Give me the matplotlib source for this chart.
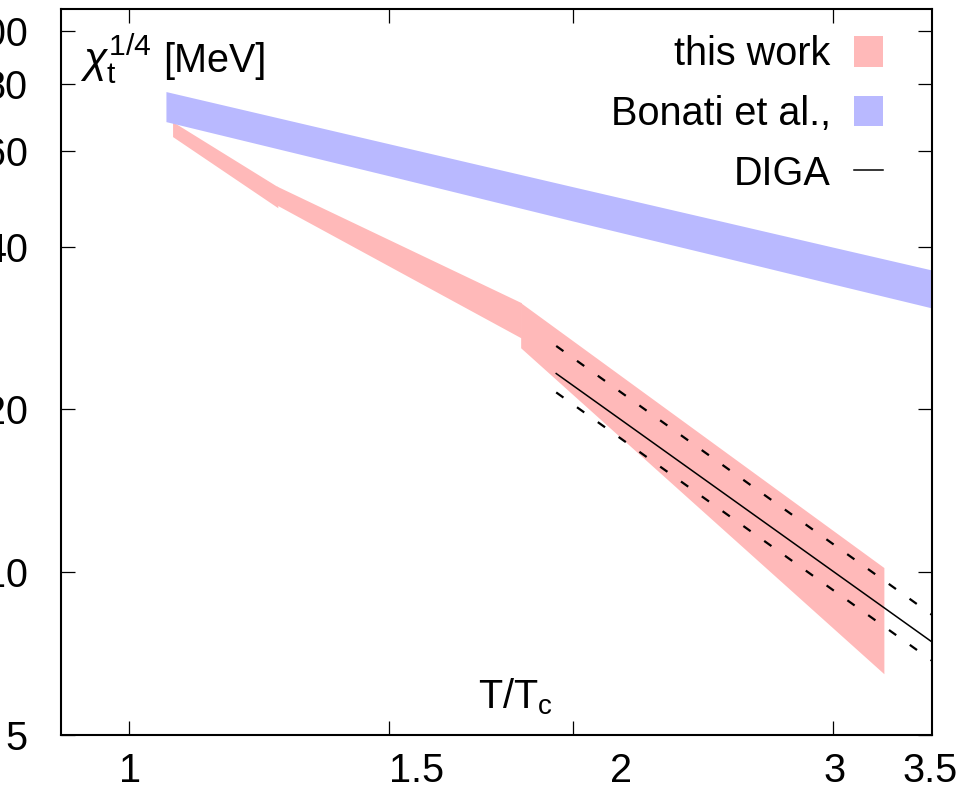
import matplotlib.pyplot as plt
from matplotlib.ticker import FixedLocator, FixedFormatter, NullFormatter, NullLocator

plt.rcParams['font.family'] = ['Liberation Sans', 'DejaVu Sans']
plt.rcParams['mathtext.fontset'] = 'custom'
plt.rcParams['mathtext.rm'] = 'Liberation Sans'
plt.rcParams['mathtext.it'] = 'Liberation Sans:italic'

# Bonati et al. band
bonati_x = [1.06, 1.5, 2.0, 2.5, 3.0, 3.5]
bonati_hi = [77.4, 62.0, 51.6, 44.8, 39.9, 36.2]
bonati_lo = [68.1, 54.1, 44.6, 38.5, 34.1, 30.8]

# this work, three pieces
work1_x = [1.071, 1.262]
work1_hi = [68.1, 51.6]
work1_lo = [63.9, 47.2]
work2_x = [1.259, 1.845]
work2_hi = [51.8, 31.5]
work2_lo = [47.8, 27.1]
work3_x = [1.843, 3.247]
work3_hi = [31.5, 10.2]
work3_lo = [26.0, 6.49]

# DIGA
diga_x = [1.948, 3.5]
diga_mid = [23.3, 7.43]
diga_hi = [26.2, 8.34]
diga_lo = [21.5, 6.86]

xticks = [1, 1.5, 2, 3]
xlabel_pos = [1.003, 1.568, 2.155, 3.008, 3.488]
xlabels = ['1', '1.5', '2', '3', '3.5']
yticks = [5, 10, 20, 40, 60, 80, 100]
ylabels = ['5', '10', '20', '40', '60', '80', '100']

red = '#ffb9b9'
blue = '#b9b9ff'
fs = 28.5

fig = plt.figure(figsize=(9.71, 8.01), dpi=100)
ax = fig.add_axes([61 / 971, 66 / 801, 871 / 971, 726 / 801])
ax.set_xscale('log')
ax.set_yscale('log')

h_work = None
for xs, lo, hi in [(work1_x, work1_lo, work1_hi), (work2_x, work2_lo, work2_hi), (work3_x, work3_lo, work3_hi)]:
    p = ax.fill_between(xs, lo, hi, color=red, lw=0, zorder=1)
    if h_work is None:
        h_work = p
h_bon = ax.fill_between(bonati_x, bonati_lo, bonati_hi, color=blue, lw=0, zorder=2)
h_diga, = ax.plot(diga_x, diga_mid, color='k', lw=1.1, zorder=3)
ax.plot(diga_x, diga_hi, color='k', lw=1.6, ls=(0, (4, 7.5)), zorder=3)
ax.plot(diga_x, diga_lo, color='k', lw=1.6, ls=(0, (4, 7.5)), zorder=3)

ax.set_xlim(0.9, 3.5)
ax.set_ylim(5, 110)

ax.xaxis.set_major_locator(FixedLocator(xticks))
ax.xaxis.set_major_formatter(NullFormatter())
ax.xaxis.set_minor_locator(FixedLocator(xlabel_pos))
ax.xaxis.set_minor_formatter(FixedFormatter(xlabels))
ax.yaxis.set_major_locator(FixedLocator(yticks))
ax.yaxis.set_major_formatter(FixedFormatter(ylabels))
ax.yaxis.set_minor_locator(NullLocator())

ax.tick_params(which='major', direction='in', length=10, width=0.9, top=True, right=True)
ax.tick_params(axis='x', which='minor', length=0, labelsize=fs, pad=12)
ax.tick_params(axis='y', which='major', labelsize=fs, pad=24)
for s in ax.spines.values():
    s.set_linewidth(1.5)

ax.text(0.022, 0.913, r'$\chi_\mathrm{t}^{1/4}$', transform=ax.transAxes,
        fontsize=31, va='baseline')
ax.text(0.117, 0.913, '[MeV]', transform=ax.transAxes, fontsize=fs, va='baseline')
ax.text(0.479, 0.037, r'T/T$_\mathrm{c}$', transform=ax.transAxes, fontsize=fs)

ax.legend([h_work, h_bon, h_diga], ['this work', 'Bonati et al.,', 'DIGA'],
          loc='upper right', bbox_to_anchor=(0.944, 0.964), borderaxespad=0, borderpad=0,
          frameon=False, markerfirst=False, fontsize=fs, handlelength=0.73, handleheight=0.8,
          handletextpad=0.6, labelspacing=0.55)

plt.savefig('out.png')
